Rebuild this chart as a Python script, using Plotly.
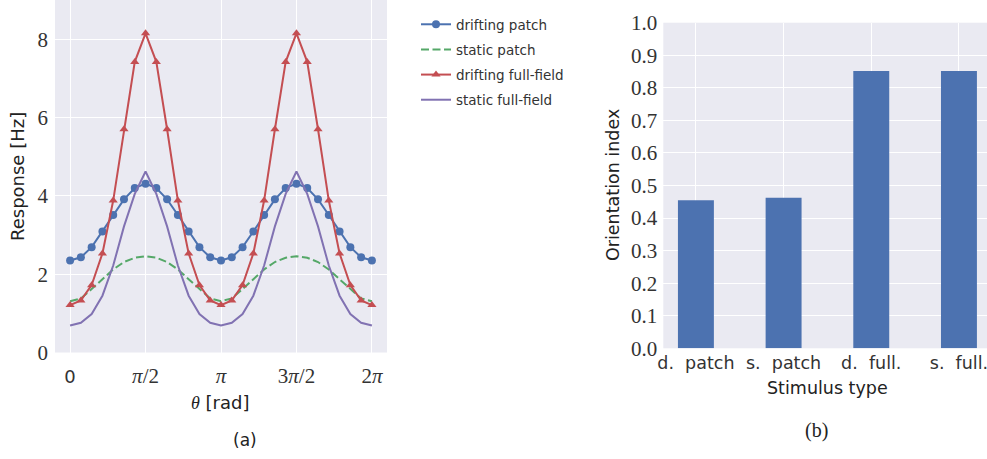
import numpy as np
import plotly.graph_objects as go

# ---------------- data ----------------
theta = np.linspace(0, 2 * np.pi, 29)

drifting_patch = [2.35, 2.43, 2.69, 3.09, 3.51, 3.91, 4.20, 4.31, 4.20, 3.91, 3.51, 3.09, 2.69, 2.43, 2.35,
                  2.43, 2.69, 3.09, 3.51, 3.91, 4.20, 4.31, 4.20, 3.91, 3.51, 3.09, 2.69, 2.43, 2.35]
static_patch = [1.31, 1.38, 1.62, 1.87, 2.12, 2.31, 2.42, 2.46, 2.42, 2.31, 2.12, 1.87, 1.62, 1.38, 1.31,
                1.38, 1.62, 1.87, 2.12, 2.31, 2.42, 2.46, 2.42, 2.31, 2.12, 1.87, 1.62, 1.38, 1.31]
drifting_full = [1.21, 1.33, 1.72, 2.53, 3.88, 5.70, 7.42, 8.15, 7.42, 5.70, 3.88, 2.53, 1.72, 1.33, 1.21,
                 1.33, 1.72, 2.53, 3.88, 5.70, 7.42, 8.15, 7.42, 5.70, 3.88, 2.53, 1.72, 1.33, 1.21]
static_full = [0.69, 0.76, 0.98, 1.45, 2.22, 3.22, 4.05, 4.62, 4.05, 3.22, 2.22, 1.45, 0.98, 0.76, 0.69,
               0.76, 0.98, 1.45, 2.22, 3.22, 4.05, 4.62, 4.05, 3.22, 2.22, 1.45, 0.98, 0.76, 0.69]

x_tickvals = [0, np.pi / 2, np.pi, 3 * np.pi / 2, 2 * np.pi]
x_ticktext = ["<span style='font-family:DejaVu Sans;font-size:18px'>0</span>", "<i>π</i>/2", "<i>π</i>",
              "3<i>π</i>/2", "2<i>π</i>"]
y_tickvals = [0, 2, 4, 6, 8]

stimulus = ["d.\u00a0\u00a0patch", "s.\u00a0\u00a0patch", "d.\u00a0\u00a0full.", "s.\u00a0\u00a0full."]
orientation_index = [0.455, 0.462, 0.852, 0.852]
oi_ticks = [round(0.1 * i, 1) for i in range(11)]

# ---------------- style ----------------
BLUE = "#4C72B0"
GREEN = "#55A868"
RED = "#C44E52"
PURPLE = "#8172B2"
BG = "#EAEAF2"
SANS = "DejaVu Sans"
SERIF = "Liberation Serif"
W, H = 987, 459

fig = go.Figure()

fig.add_trace(go.Scatter(x=theta, y=drifting_patch, name="drifting patch", mode="lines+markers",
                         line=dict(color=BLUE, width=2), marker=dict(symbol="circle", size=8, color=BLUE),
                         legendgroup="a", xaxis="x", yaxis="y"))
fig.add_trace(go.Scatter(x=theta, y=static_patch, name="static patch", mode="lines",
                         line=dict(color=GREEN, width=2, dash="8px,3.5px"),
                         legendgroup="b", xaxis="x", yaxis="y"))
fig.add_trace(go.Scatter(x=theta, y=drifting_full, name="drifting full-field", mode="lines+markers",
                         line=dict(color=RED, width=2), marker=dict(symbol="triangle-up", size=8, color=RED),
                         legendgroup="c", xaxis="x", yaxis="y"))
fig.add_trace(go.Scatter(x=theta, y=static_full, name="static full-field", mode="lines",
                         line=dict(color=PURPLE, width=2),
                         legendgroup="d", xaxis="x", yaxis="y"))

fig.add_trace(go.Bar(x=stimulus, y=orientation_index, marker=dict(color=BLUE, line=dict(width=0)),
                     width=0.41, showlegend=False, xaxis="x2", yaxis="y2"))

# plot-area geometry in pixels
L1, R1, T1, B1 = 55, 387, 0, 352.5
L2, R2, T2, B2 = 663.3, 987, 22.7, 348.3

axis_common = dict(showgrid=True, gridcolor="white", gridwidth=1.3, zeroline=False, automargin=False,
                   showline=False, ticks="", tickfont=dict(family=SERIF, size=21, color="#333333"))

fig.update_layout(
    width=W, height=H, margin=dict(l=0, r=0, t=0, b=0),
    paper_bgcolor="white", plot_bgcolor=BG,
    xaxis=dict(axis_common, domain=[L1 / W, R1 / W], range=[-0.05 * 2 * np.pi, 2 * np.pi * 1.05],
               tickvals=x_tickvals, ticktext=x_ticktext, anchor="y", ticklabelstandoff=8),
    yaxis=dict(axis_common, domain=[1 - B1 / H, 1 - T1 / H], range=[0, 9.0],
               tickvals=y_tickvals, anchor="x", ticklabelstandoff=6),
    xaxis2=dict(axis_common, domain=[L2 / W, R2 / W], range=[-0.372, 3.32], anchor="y2",
                tickfont=dict(family=SANS, size=17.5, color="#333333"), ticklabelstandoff=2),
    yaxis2=dict(axis_common, domain=[1 - B2 / H, 1 - T2 / H], range=[0, 1.0],
                tickvals=oi_ticks, tickformat=".1f", anchor="x2", ticklabelstandoff=5),
    showlegend=True,
    legend=dict(x=416 / W, y=1 - 9 / H, xanchor="left", yanchor="top",
                font=dict(family=SANS, size=13.5, color="#333333"),
                bgcolor="rgba(0,0,0,0)", tracegroupgap=4.6, itemwidth=30),
)

def ann(text, x, y, size, family=SANS, angle=0):
    fig.add_annotation(text=text, x=x / W, y=1 - y / H, xref="paper", yref="paper",
                       showarrow=False, textangle=angle, xanchor="center", yanchor="middle",
                       font=dict(family=family, size=size, color="#222222"))

ann("Response [Hz]", 18, 177, 18, angle=-90)
ann("<span style='font-family:Liberation Serif'><i>θ</i></span> [rad]", 220, 402, 18)
ann("(a)", 245, 440, 17)
ann("Orientation index", 613, 185, 17.5, angle=-90)
ann("Stimulus type", 827, 388, 17.5)
ann("(b)", 816, 430, 20, family=SERIF)

fig.write_html("out.html")
